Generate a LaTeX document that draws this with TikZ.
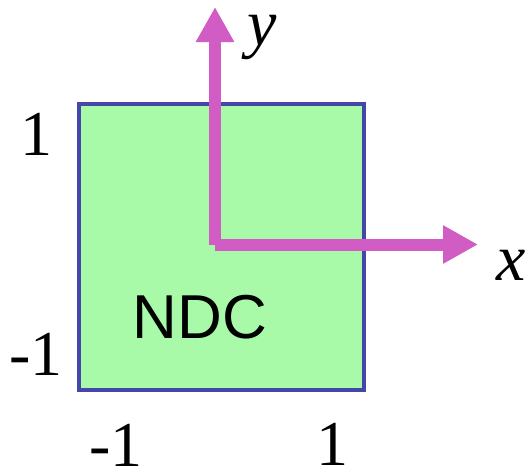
\documentclass[tikz,border=0pt]{standalone}
\usepackage{fontspec}
\setmainfont{Liberation Serif}
\newfontfamily\arialf{Liberation Sans}
\usetikzlibrary{arrows.meta}
\definecolor{ndcfill}{HTML}{A8FAA8}
\definecolor{ndcedge}{HTML}{4446AA}
\definecolor{axispink}{HTML}{D05CC4}
\begin{document}
\begin{tikzpicture}[x=1pt,y=-1pt,
  ticklabel/.style={anchor=base,inner sep=0pt,text height=44pt,text depth=0pt,font=\fontsize{64}{64}\selectfont},
  axislabel/.style={anchor=base,inner sep=0pt,text height=30pt,text depth=14pt,font=\fontsize{66}{66}\selectfont\itshape},
  axisarrow/.style={draw=axispink,line width=12pt,
    -{Triangle[length=35pt,width=36pt,fill=axispink]}}]
\useasboundingbox (0,0) rectangle (527,469);
\node[draw=ndcedge,fill=ndcfill,line width=4pt,minimum width=285pt,minimum height=286.5pt,inner sep=0pt] (sq) at (221.5,246.75) {};
\node[anchor=base,inner sep=0pt,font=\arialf\fontsize{62}{62}\selectfont] (ndc) at (200,338) {NDC};
\coordinate (o) at (215,244.5);
\coordinate (ytip) at (215,7);
\coordinate (xtip) at (478,244.5);
\draw[axisarrow] (o) -- (xtip);
\draw[axisarrow] (o) -- (ytip);
\node[ticklabel] (l1) at (36,155) {1};
\node[ticklabel] (lm1) at (36,375) {-1};
\node[ticklabel] (bm1) at (116,466) {-1};
\node[ticklabel] (b1) at (332,465) {1};
\node[axislabel] (ylab) at (262,45) {y};
\node[axislabel] (xlab) at (511,280) {x};
\end{tikzpicture}
\end{document}
